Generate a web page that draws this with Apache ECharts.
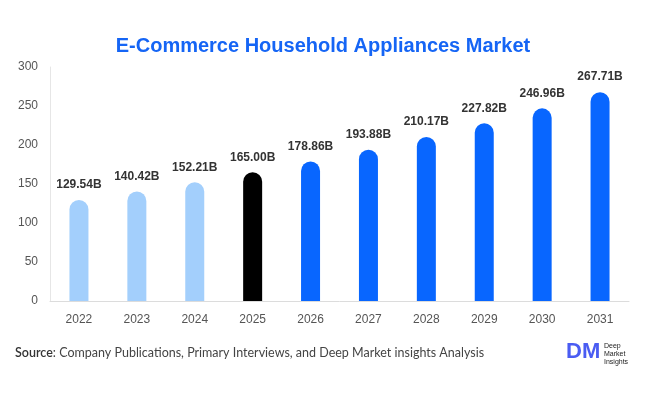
<!DOCTYPE html>
<html>
<head>
<meta charset="utf-8">
<script src="https://cdn.jsdelivr.net/npm/echarts@6/dist/echarts.min.js"></script>
<style>html,body{margin:0;padding:0;background:#fff}#c{width:646px;height:394px}</style>
</head>
<body>
<div id="c"></div>
<script>
var categories = ['2022','2023','2024','2025','2026','2027','2028','2029','2030','2031'];
var values = [129.54,140.42,152.21,165.00,178.86,193.88,210.17,227.82,246.96,267.71];
var barColors = ['#a3cffc','#a3cffc','#a3cffc','#000000','#0866ff','#0866ff','#0866ff','#0866ff','#0866ff','#0866ff'];
var yTicks = [0,50,100,150,200,250,300];

var chart = echarts.init(document.getElementById('c'));
chart.setOption({
  animation:false,
  title:{text:'E-Commerce Household Appliances Market',left:'center',top:31,
    textStyle:{color:'#1565f5',fontSize:20,fontWeight:'bold',fontFamily:'Liberation Sans, Arial, sans-serif'}},
  grid:{left:50,right:17,top:67,bottom:93},
  xAxis:{type:'category',data:categories,
    axisLine:{lineStyle:{color:'#dcdcdc'}},axisTick:{show:false},
    axisLabel:{color:'#555',fontSize:12,margin:13,fontFamily:'Liberation Sans, Arial, sans-serif'}},
  yAxis:{type:'value',min:yTicks[0],max:yTicks[yTicks.length-1],interval:50,
    axisLine:{show:true,lineStyle:{color:'#e6e6e6'}},axisTick:{show:false},splitLine:{show:false},
    axisLabel:{color:'#555',fontSize:12,margin:12,fontFamily:'Liberation Sans, Arial, sans-serif'}},
  series:[{type:'bar',barWidth:19,
    data:values.map(function(v,i){return {value:v,itemStyle:{color:barColors[i]}};}),
    itemStyle:{borderRadius:[10,10,0,0]},
    label:{show:true,position:'top',distance:9,color:'#333',fontWeight:'bold',fontSize:12,
      fontFamily:'Liberation Sans, Arial, sans-serif',
      formatter:function(p){return p.value.toFixed(2)+'B';}}}],
  graphic:[
    {type:'text',left:15,top:346,style:{text:'{b|Source}{n|: Company Publications, Primary Interviews, and Deep Market insights Analysis}',
      rich:{b:{fontSize:12.5,fontWeight:600,fill:'#333',fontFamily:'Lato, sans-serif'},
            n:{fontSize:12.5,fill:'#444',fontFamily:'Lato, sans-serif'}}}},
    {type:'text',left:566,top:341,style:{text:'DM',fontSize:22,fontWeight:'bold',fill:'#4a5cf2',fontFamily:'Liberation Sans, Arial, sans-serif'}},
    {type:'text',left:604,top:342,style:{text:'Deep\nMarket\nInsights',fontSize:7,lineHeight:8,fill:'#222',fontFamily:'Liberation Sans, Arial, sans-serif'}}
  ]
});
</script>
</body>
</html>
